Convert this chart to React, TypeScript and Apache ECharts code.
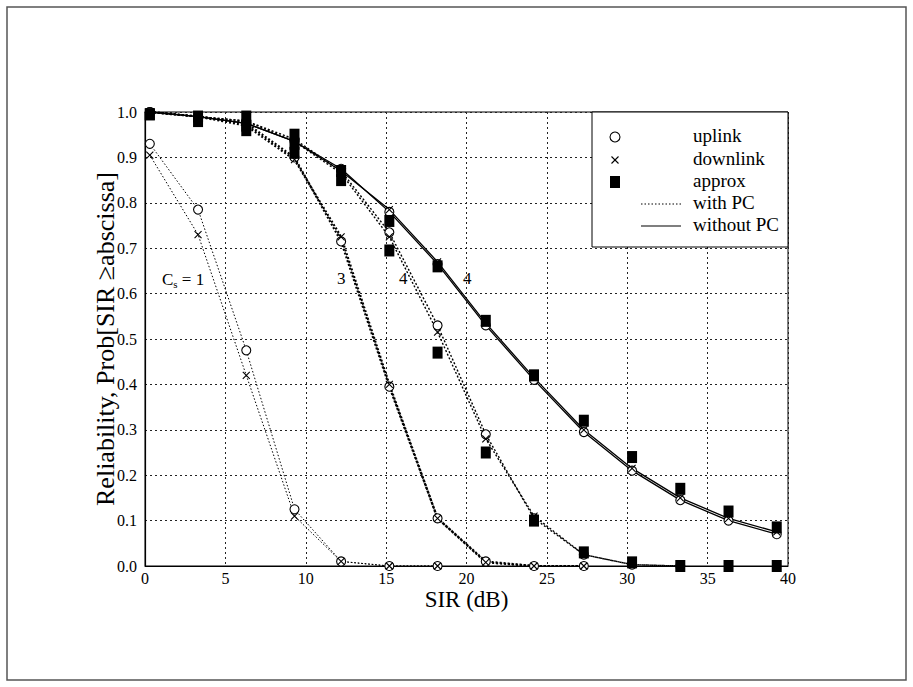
import React, { useEffect, useRef } from "react";
import * as echarts from "echarts";

const sir = [0.3, 3.3, 6.3, 9.3, 12.2, 15.2, 18.2, 21.2, 24.2, 27.3, 30.3, 33.3, 36.3, 39.3];
const xTicks = [0, 5, 10, 15, 20, 25, 30, 35, 40];
const yTicks = [0, 0.1, 0.2, 0.3, 0.4, 0.5, 0.6, 0.7, 0.8, 0.9, 1.0];

const cs1Up = [0.93, 0.785, 0.475, 0.125, 0.01, 0.0, 0.0];
const cs1Down = [0.905, 0.73, 0.42, 0.11, 0.01, 0.0, 0.0];
const cs3Up = [1.0, 0.99, 0.975, 0.9, 0.715, 0.395, 0.105, 0.01, 0.0, 0.0];
const cs3Down = [1.0, 0.99, 0.97, 0.895, 0.725, 0.4, 0.105, 0.008, 0.0, 0.0];
const cs4PcUp = [1.0, 0.99, 0.98, 0.94, 0.87, 0.735, 0.53, 0.29, 0.105, 0.025, 0.003, 0.0];
const cs4PcDown = [1.0, 0.99, 0.98, 0.935, 0.865, 0.725, 0.515, 0.28, 0.11, 0.025, 0.003, 0.0];
const cs4NoPcUp = [1.0, 0.99, 0.975, 0.935, 0.875, 0.78, 0.665, 0.53, 0.41, 0.295, 0.21, 0.145, 0.1, 0.07];
const cs4NoPcDown = [1.0, 0.99, 0.975, 0.935, 0.87, 0.785, 0.67, 0.535, 0.415, 0.3, 0.215, 0.15, 0.105, 0.075];
const approxPc = [0.995, 0.98, 0.96, 0.91, 0.85, 0.695, 0.47, 0.25, 0.1, 0.03, 0.008, 0.0, 0.0, 0.0];
const approxNoPc = [0.995, 0.99, 0.99, 0.95, 0.87, 0.76, 0.66, 0.54, 0.42, 0.32, 0.24, 0.17, 0.12, 0.085];
const approxExtra = [null, null, 0.97, 0.93, null, null, null, null, null, null, null, null, null, null];

const FAM = '"Liberation Serif"';
const CROSS = "path://M0,0L10,10M10,0L0,10";

const pair = (ys: (number | null)[]) =>
  ys.map((y, i) => (y === null ? null : [sir[i], y])).filter((p) => p !== null);

function lineSeries(name: string, ys: number[], kind: "up" | "down", width: number, dash: any) {
  return {
    name,
    type: "line",
    data: pair(ys),
    symbol: kind === "up" ? "circle" : CROSS,
    symbolSize: kind === "up" ? 9 : 7,
    showSymbol: true,
    itemStyle: { color: kind === "up" ? "#fff" : "transparent", borderColor: "#000", borderWidth: 1.1 },
    lineStyle: { color: "#000", width, type: dash },
    z: 3,
  };
}

function approxSeries(name: string, ys: (number | null)[]) {
  return {
    name,
    type: "scatter",
    data: pair(ys),
    symbol: "rect",
    symbolSize: [10, 12],
    itemStyle: { color: "#000", opacity: 1 },
    z: 4,
  };
}

export default function App() {
  const ref = useRef<HTMLDivElement>(null);
  useEffect(() => {
    if (!ref.current) return;
    const chart = echarts.init(ref.current, null, { renderer: "svg" });
    const lx = 615;
    const tx = 693;
    const rows = [137, 160, 182, 204, 226];
    const txt = (t: string, y: number) => ({
      type: "text",
      left: tx,
      top: y - 11,
      style: { text: t, font: `19px ${FAM}`, fill: "#000" },
    });
    const baseGraphic: any[] = [
      { type: "rect", shape: { x: 7, y: 7, width: 899, height: 673 }, style: { fill: "none", stroke: "#555", lineWidth: 1.5 }, z: 0 },
      { type: "rect", shape: { x: 592, y: 112, width: 196, height: 135 }, style: { fill: "#fff", stroke: "#000", lineWidth: 1 }, z: 10 },
      { type: "circle", shape: { cx: lx, cy: rows[0], r: 5 }, style: { fill: "#fff", stroke: "#000", lineWidth: 1.1 }, z: 11 },
      { type: "line", shape: { x1: lx - 3.5, y1: rows[1] - 3.5, x2: lx + 3.5, y2: rows[1] + 3.5 }, style: { stroke: "#000", lineWidth: 1.1 }, z: 11 },
      { type: "line", shape: { x1: lx + 3.5, y1: rows[1] - 3.5, x2: lx - 3.5, y2: rows[1] + 3.5 }, style: { stroke: "#000", lineWidth: 1.1 }, z: 11 },
      { type: "rect", shape: { x: lx - 5, y: rows[2] - 6, width: 10, height: 12 }, style: { fill: "#000" }, z: 11 },
      { type: "line", shape: { x1: 641, y1: rows[3], x2: 681, y2: rows[3] }, style: { stroke: "#000", lineWidth: 1, lineDash: [1.5, 2] }, z: 11 },
      { type: "line", shape: { x1: 641, y1: rows[4], x2: 681, y2: rows[4] }, style: { stroke: "#000", lineWidth: 1.2 }, z: 11 },
      { ...txt("uplink", rows[0]), z: 11 },
      { ...txt("downlink", rows[1]), z: 11 },
      { ...txt("approx", rows[2]), z: 11 },
      { ...txt("with PC", rows[3]), z: 11 },
      { ...txt("without PC", rows[4]), z: 11 },
      {
        type: "text",
        left: 162,
        top: 269,
        z: 11,
        style: {
          text: "{a|C}{b|s}{a| = 1}",
          rich: {
            a: { fontFamily: FAM, fontSize: 17, fill: "#000", lineHeight: 22 },
            b: { fontFamily: FAM, fontSize: 11, fill: "#000", lineHeight: 22, padding: [9, 0, 0, 0] },
          },
        },
      },
      { type: "text", left: 337, top: 270, z: 11, style: { text: "3", font: `17px ${FAM}`, fill: "#000" } },
      { type: "text", left: 399, top: 270, z: 11, style: { text: "4", font: `17px ${FAM}`, fill: "#000" } },
      { type: "text", left: 463, top: 270, z: 11, style: { text: "4", font: `17px ${FAM}`, fill: "#000" } },
    ];
    chart.setOption({
      animation: false,
      backgroundColor: "#fff",
      grid: { left: 145, right: 125, top: 112, bottom: 121, show: true, borderColor: "#000", borderWidth: 1, backgroundColor: "transparent" },
      xAxis: {
        type: "value",
        min: 0,
        max: 40,
        interval: 5,
        axisLine: { lineStyle: { color: "#000", width: 1 } },
        axisTick: { show: false },
        axisLabel: { show: false },
        splitLine: { show: true, lineStyle: { color: "#222", width: 1, type: [2, 3] } },
      },
      yAxis: {
        type: "value",
        min: 0,
        max: 1,
        interval: 0.1,
        axisLine: { show: true, lineStyle: { color: "#000", width: 1.2 } },
        axisTick: { show: false },
        axisLabel: { show: false },
        splitLine: { show: true, lineStyle: { color: "#222", width: 1, type: [2, 3] } },
      },
      series: [
        lineSeries("cs1 up", cs1Up, "up", 1, [1.5, 2]),
        lineSeries("cs1 down", cs1Down, "down", 1, [1.5, 2]),
        lineSeries("cs3 up", cs3Up, "up", 2.2, [2, 2]),
        lineSeries("cs3 down", cs3Down, "down", 2.2, [2, 2]),
        lineSeries("cs4 pc up", cs4PcUp, "up", 1.4, [2, 2]),
        lineSeries("cs4 pc down", cs4PcDown, "down", 1.4, [2, 2]),
        lineSeries("cs4 nopc up", cs4NoPcUp, "up", 1.3, "solid"),
        lineSeries("cs4 nopc down", cs4NoPcDown, "down", 1.3, "solid"),
        approxSeries("approx pc", approxPc),
        approxSeries("approx nopc", approxNoPc),
        approxSeries("approx extra", approxExtra),
      ],
      graphic: baseGraphic,
    });

    // Axis labels and names drawn as serif text at positions from the library's scales
    const [x0, y0] = chart.convertToPixel({ gridIndex: 0 }, [0, 0]) as number[];
    const [x1, y1] = chart.convertToPixel({ gridIndex: 0 }, [40, 1]) as number[];
    const labels: any[] = [];
    xTicks.forEach((v) => {
      const [px] = chart.convertToPixel({ gridIndex: 0 }, [v, 0]) as number[];
      labels.push({
        type: "text",
        x: px,
        y: y0 + 4,
        z: 12,
        style: { text: String(v), font: `16px ${FAM}`, fill: "#000", textAlign: "center", textVerticalAlign: "top" },
      });
    });
    yTicks.forEach((v) => {
      const [, py] = chart.convertToPixel({ gridIndex: 0 }, [0, v]) as number[];
      labels.push({
        type: "text",
        x: x0 - 8,
        y: py,
        z: 12,
        style: { text: v.toFixed(1), font: `16px ${FAM}`, fill: "#000", textAlign: "right", textVerticalAlign: "middle" },
      });
    });
    labels.push({
      type: "text",
      x: (x0 + x1) / 2,
      y: y0 + 33,
      z: 12,
      style: { text: "SIR (dB)", font: `23px ${FAM}`, fill: "#000", textAlign: "center", textVerticalAlign: "middle" },
    });
    labels.push({
      type: "text",
      x: x0 - 40,
      y: (y0 + y1) / 2,
      rotation: Math.PI / 2,
      z: 12,
      style: {
        text: "Reliability, Prob[SIR ≥abscissa]",
        font: `26px ${FAM}`,
        fill: "#000",
        textAlign: "center",
        textVerticalAlign: "middle",
      },
    });
    chart.setOption({ graphic: [...baseGraphic, ...labels] });
    return () => chart.dispose();
  }, []);
  return <div ref={ref} style={{ position: "fixed", left: 0, top: 0, width: 913, height: 687 }} />;
}
